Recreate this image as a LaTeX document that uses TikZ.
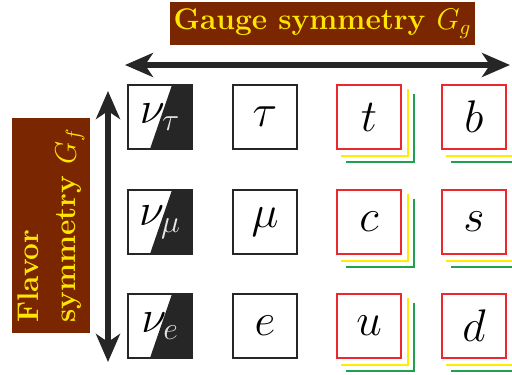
\RequirePackage{fix-cm}
\documentclass[tikz,border=0pt]{standalone}
\usetikzlibrary{arrows.meta}
\definecolor{brn}{RGB}{122,38,0}
\definecolor{ylw}{RGB}{255,230,0}
\definecolor{qred}{RGB}{234,40,45}
\definecolor{qylw}{RGB}{255,236,0}
\definecolor{qgrn}{RGB}{30,162,78}
\begin{document}
\begin{tikzpicture}[x=0.02cm, y=-0.02cm,
  cell/.style={draw, line width=0.9pt, minimum size=1.28cm, inner sep=0pt, font=\fontsize{26}{30}\selectfont},
  lep/.style={cell, draw=black!85},
  nu/.style={lep, path picture={\fill[black!85] ([shift={(-20,0)}]path picture bounding box.north east) -- ([shift={(-42,0)}]path picture bounding box.south east) -- (path picture bounding box.south east) -- (path picture bounding box.north east) -- cycle;}},
  qk/.style={cell, draw=qred},
  sym/.style={fill=brn, text=ylw, font=\fontsize{17}{21.5}\selectfont\bfseries, inner sep=0pt},
  arr/.style={{Stealth[length=0.56cm,width=0.48cm,inset=0.16cm]}-{Stealth[length=0.56cm,width=0.48cm,inset=0.16cm]}, line width=3.7pt, draw=black!85}
]
\useasboundingbox (0,0) rectangle (512,375);

% symmetry labels
\node[sym, minimum width=6.1cm, minimum height=0.86cm] (gg) at (322.5,23.5) {Gauge symmetry $G_g$};
\node[sym, rotate=90, align=left, minimum width=4.3cm, minimum height=1.56cm] (gf) at (51,225.5) {Flavor\\symmetry $G_f$};

\coordinate (hl) at (125,65);
\coordinate (hr) at (510,65);
\coordinate (vt) at (108,91);
\coordinate (vb) at (108,362);
\draw[arr] (hl) -- (hr);
\draw[arr] (vt) -- (vb);

% leptons
\node[nu] (nt) at (160,117) {$\nu_{\color{black!10}\tau}$};
\node[nu] (nm) at (160,222) {$\nu_{\color{black!10}\mu}$};
\node[nu] (ne) at (160,326) {$\nu_{\color{black!10}e}$};
\node[lep] (ta) at (265,117) {$\tau$};
\node[lep] (mu) at (265,222) {$\mu$};
\node[lep] (el) at (265,326) {$e$};

% quarks
\node[qk] (t) at (369,117) {$t$};
\node[qk] (c) at (369,222) {$c$};
\node[qk] (u) at (369,326) {$u$};
\node[qk] (b) at (474,117) {$b$};
\node[qk] (s) at (474,222) {$s$};
\node[qk] (d) at (474,326) {$d$};

% colour copies
\foreach \q in {t,c,u,b,s,d} {
  \draw[qylw, line width=0.9pt] ([shift={(6,5)}]\q.north east) -- ([shift={(6,6)}]\q.south east) -- ([shift={(5,6)}]\q.south west);
  \draw[qgrn, line width=0.9pt] ([shift={(12,10)}]\q.north east) -- ([shift={(12,12)}]\q.south east) -- ([shift={(10,12)}]\q.south west);
}
\end{tikzpicture}
\end{document}
